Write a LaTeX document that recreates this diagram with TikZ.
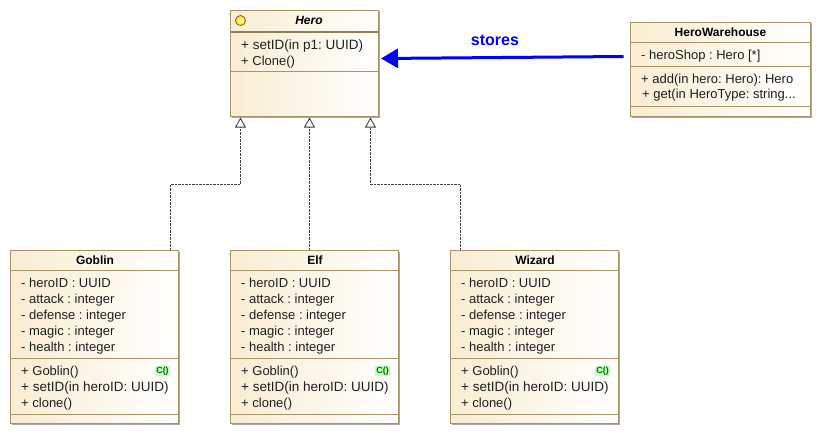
\documentclass[tikz,border=0pt]{standalone}
\usepackage{fontspec}
\setmainfont{Liberation Sans}
\usetikzlibrary{arrows.meta}
\definecolor{umlborder}{HTML}{A8946A}
\definecolor{umltan}{HTML}{F9EDD2}
\tikzset{
  x=1pt,y=-1pt,
  classbox/.style={draw=umlborder,line width=1pt,outer sep=0pt,left color=umltan,right color=white,rectangle,inner sep=0pt,anchor=north west},
  shadowline/.style={draw=black!35,line width=1pt},
  sepline/.style={draw=umlborder,line width=1pt},
  septhick/.style={draw=umlborder!85!black,line width=2pt},
  member/.style={anchor=base west,inner sep=0pt,font=\fontsize{13}{13}\selectfont\frenchspacing,text=black!88},
  signature/.style={member,font=\fontsize{13.5}{13.5}\selectfont\frenchspacing},
  classname/.style={anchor=base,inner sep=0pt,font=\fontsize{12}{12}\selectfont\bfseries},
  realize/.style={draw=black!75,line width=.9pt,dash pattern=on 2.5pt off 1pt,-{Triangle[open,length=10pt,width=11pt,fill=white,sep=0pt]}},
  stores/.style={draw=blue,line width=3pt,-{Triangle[length=17pt,width=19pt]}},
  ctor/.style={fill=green!25,text=green!45!black,inner sep=0pt,minimum width=15pt,minimum height=10pt,font=\fontsize{9}{9}\selectfont\bfseries},
  absicon/.style={circle,draw=brown!70!black,line width=.8pt,inner color=yellow!25,outer color=yellow!80!orange,minimum size=10pt,inner sep=0pt}
}
\begin{document}
\begin{tikzpicture}
\useasboundingbox (0,0) rectangle (822,436);
% Hero
\node[classbox,minimum width=148pt,minimum height=106pt] (hero) at (230.5,10.5) {};
\draw[septhick] (230.5,32) -- (378.5,32);
\draw[sepline] (230.5,72) -- (378.5,72);
\node[absicon] (heroicon) at (240.5,20.5) {};
\node[classname,font=\fontsize{12}{12}\selectfont\bfseries\itshape] (heroname) at (309,25) {Hero};
\node[signature] (h1) at (241,49.2) {+ setID(in p1: UUID)};
\node[member] (h2) at (241,65.2) {+ Clone()};
% HeroWarehouse
\node[classbox,minimum width=180pt,minimum height=94pt] (wh) at (630.5,22.5) {};
\draw[sepline] (630.5,42.5) -- (810.5,42.5);
\draw[sepline] (630.5,66.5) -- (810.5,66.5);
\draw[sepline] (630.5,106.5) -- (810.5,106.5);
\node[classname] (whname) at (720.5,36.5) {HeroWarehouse};
\node[member] (w1) at (641,59.5) {- heroShop : Hero [*]};
\node[member] (w2) at (641,83.5) {+ add(in hero: Hero): Hero};
\node[member] (w3) at (642,99) {+ get(in HeroType: string...};
% Goblin
\node[classbox,minimum width=168pt,minimum height=173pt] (gob) at (10.5,250.5) {};
\draw[sepline] (10.5,270.5) -- (178.5,270.5);
\draw[sepline] (10.5,358) -- (178.5,358);
\draw[sepline] (10.5,414) -- (178.5,414);
\node[classname] (gobname) at (95,264.5) {Goblin};
\node[member] (g1) at (21,287.7) {- heroID : UUID};
\node[member] (g2) at (21,303.7) {- attack : integer};
\node[member] (g3) at (21,319.7) {- defense : integer};
\node[member] (g4) at (21,335.7) {- magic : integer};
\node[member] (g5) at (21,351.7) {- health : integer};
\node[member] (g6) at (21,375.7) {+ Goblin()};
\node[signature] (g7) at (21,391.7) {+ setID(in heroID: UUID)};
\node[member] (g8) at (21,407.7) {+ clone()};
\node[ctor] (gc) at (162.5,371) {C()};
% Elf
\node[classbox,minimum width=168pt,minimum height=173pt] (elf) at (230.5,250.5) {};
\draw[sepline] (230.5,270.5) -- (398.5,270.5);
\draw[sepline] (230.5,358) -- (398.5,358);
\draw[sepline] (230.5,414) -- (398.5,414);
\node[classname] (elfname) at (315,264.5) {Elf};
\node[member] (e1) at (241,287.7) {- heroID : UUID};
\node[member] (e2) at (241,303.7) {- attack : integer};
\node[member] (e3) at (241,319.7) {- defense : integer};
\node[member] (e4) at (241,335.7) {- magic : integer};
\node[member] (e5) at (241,351.7) {- health : integer};
\node[member] (e6) at (241,375.7) {+ Goblin()};
\node[signature] (e7) at (241,391.7) {+ setID(in heroID: UUID)};
\node[member] (e8) at (241,407.7) {+ clone()};
\node[ctor] (ec) at (382.5,371) {C()};
% Wizard
\node[classbox,minimum width=168pt,minimum height=173pt] (wiz) at (450.5,250.5) {};
\draw[sepline] (450.5,270.5) -- (618.5,270.5);
\draw[sepline] (450.5,358) -- (618.5,358);
\draw[sepline] (450.5,414) -- (618.5,414);
\node[classname] (wizname) at (535,264.5) {Wizard};
\node[member] (z1) at (461,287.7) {- heroID : UUID};
\node[member] (z2) at (461,303.7) {- attack : integer};
\node[member] (z3) at (461,319.7) {- defense : integer};
\node[member] (z4) at (461,335.7) {- magic : integer};
\node[member] (z5) at (461,351.7) {- health : integer};
\node[member] (z6) at (461,375.7) {+ Goblin()};
\node[signature] (z7) at (461,391.7) {+ setID(in heroID: UUID)};
\node[member] (z8) at (461,407.7) {+ clone()};
\node[ctor] (zc) at (602.5,371) {C()};
% shadows
\foreach \b in {hero,wh,gob,elf,wiz}
  \draw[shadowline] ([shift={(1,1)}]\b.north east) -- ([shift={(1,1)}]\b.south east) -- ([shift={(1,1)}]\b.south west);
% connectors
\coordinate (gobtop) at (170.5,250);
\coordinate (elftop) at (309.5,250);
\coordinate (wiztop) at (460.5,250);
\coordinate (herog) at (240.5,117.5);
\coordinate (heroe) at (309.5,117.5);
\coordinate (heroz) at (370.5,117.5);
\draw[realize] (gobtop) |- (herog |- 0,184) -- (herog);
\draw[realize] (elftop) -- (heroe);
\draw[realize] (wiztop) |- (heroz |- 0,184) -- (heroz);
\coordinate (whleft) at (623.5,56.5);
\coordinate (heroright) at (381,58.5);
\draw[stores] (whleft) -- (heroright);
\node[inner sep=0pt,text=blue,font=\fontsize{16}{16}\selectfont\bfseries] (storeslabel) at (495,40) {stores};
\end{tikzpicture}
\end{document}
